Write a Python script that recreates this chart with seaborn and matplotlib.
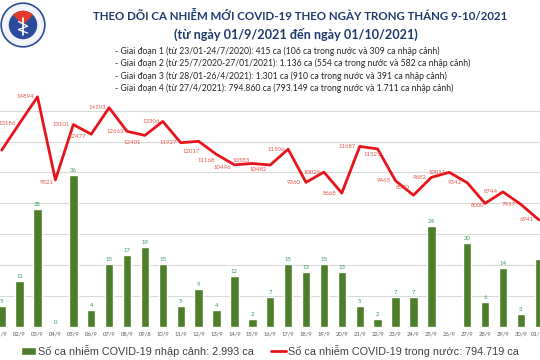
import numpy as np
import pandas as pd
import matplotlib
matplotlib.use("Agg")
import matplotlib.pyplot as plt
from matplotlib.patches import Circle, Wedge
import seaborn as sns

# ---------------- data ----------------
dates = ["01/9", "02/9", "03/9", "04/9", "05/9", "06/9", "07/9", "08/9", "09/8", "10/9",
         "11/9", "12/9", "13/9", "14/9", "15/9", "16/9", "17/9", "18/9", "19/9", "20/9",
         "21/9", "22/9", "23/9", "24/9", "25/9", "26/9", "27/9", "28/9", "29/9", "30/9", "01/10"]
imported = [5, 11, 28, 0, 36, 4, 15, 17, 19, 15,
            5, 9, 4, 12, 2, 7, 15, 13, 15, 13,
            5, 2, 7, 7, 24, np.nan, 20, 6, 14, 3, 16]
domestic = [11450, 13186, 14894, 9521, 13101, 12477, 14193, 12663, 12401, 13306,
            11927, 12017, 11168, 10496, 10583, 10482, 11506, 9360, 10025, 8668,
            11687, 11525, 9465, 8530, 9682, 10011, 9342, 8000, 8744, 7937, 6941]

title = "THEO DÕI CA NHIỄM MỚI COVID-19 THEO NGÀY TRONG THÁNG 9-10/2021"
subtitle = "(từ ngày 01/9/2021 đến ngày 01/10/2021)"
notes = [
    "- Giai đoạn 1 (từ 23/01-24/7/2020): 415 ca (106 ca trong nước và 309 ca nhập cảnh)",
    "- Giai đoạn 2 (từ 25/7/2020-27/01/2021): 1.136 ca (554 ca trong nước và 582 ca nhập cảnh)",
    "- Giai đoạn 3 (từ 28/01-26/4/2021): 1.301 ca (910 ca trong nước và 391 ca nhập cảnh)",
    "- Giai đoạn 4 (từ 27/4/2021): 794.860 ca (793.149 ca trong nước và 1.711 ca nhập cảnh)",
]
legend_bar = "Số ca nhiễm COVID-19 nhập cảnh: 2.993 ca"
legend_line = "Số ca nhiễm COVID-19 trong nước: 794.719 ca"

df = pd.DataFrame({"date": dates, "pos": np.arange(len(dates)),
                   "imported": imported, "domestic": domestic})

# ---------------- style ----------------
sns.set_theme(style="white")
plt.rcParams["font.family"] = ["Lato", "DejaVu Sans"]

BAR_C = "#4e7d2b"
BAR_LBL = "#3a9a5a"
LINE_C = "#e8141b"
LINE_LBL = "#e0584e"
NAVY = "#1f3a6e"

fig = plt.figure(figsize=(5.4, 3.6), dpi=100)
fig.patch.set_facecolor("white")

ax = fig.add_axes([0, 1 - 327 / 360, 1, 239.5 / 360])
ax2 = ax.twinx()

LINE_MAX = 15500
BAR_MAX = 239.5 / 4.22

# bars
sns.barplot(data=df, x="date", y="imported", order=dates, color=BAR_C,
            saturation=1, width=0.47, ax=ax, zorder=2)
ax.set_ylim(0, BAR_MAX)
ax.set_yticks([k * 2000 * BAR_MAX / LINE_MAX for k in range(8)])
ax.grid(axis="y", color="#d9d9d9", linewidth=0.8, zorder=0)
ax.grid(axis="x", visible=False)
ax.set_axisbelow(True)
last = len(imported) - 1
for i, v in enumerate(imported):
    # the last bar's label lies beyond the visible frame in the reference
    if np.isnan(v) or i == last:
        continue
    ax.annotate(f"{int(v)}", (i, v), xytext=(0, 2), textcoords="offset pixels",
                ha="center", va="bottom", fontsize=4.3, color=BAR_LBL,
                annotation_clip=False)

# line
sns.lineplot(data=df, x="pos", y="domestic", color=LINE_C, linewidth=2.0, ax=ax2,
             zorder=3)
ax2.set_ylim(0, LINE_MAX)

offsets = {3: (-9, 3), 5: (-14, 2), 8: (-13, 7), 11: (-7, 10), 12: (-10, 6),
           13: (-12, 3), 14: (-11, -3), 15: (-12, 4), 21: (-5, 6), 23: (-11, -8),
           27: (-8, 2), 30: (-12, 0)}
for i, v in enumerate(domestic):
    # the first point's label lies beyond the visible frame in the reference
    if i == 0:
        continue
    dx, dy = offsets.get(i, (-12, 0))
    ax2.annotate(f"{v}", (i, v), xytext=(dx, -dy), textcoords="offset pixels",
                 ha="center", va="center", fontsize=4.3, color=LINE_LBL,
                 annotation_clip=False)

ax.set_xlim(-0.095, 30.07)
for a in (ax, ax2):
    a.set_ylabel("")
    a.set_xlabel("")
    a.tick_params(axis="y", left=False, right=False, labelleft=False, labelright=False)
    for s in a.spines.values():
        s.set_visible(False)
ax2.patch.set_visible(False)
ax.tick_params(axis="x", length=0, pad=3, labelsize=4.2, labelcolor="#595959")
ax2.tick_params(axis="x", length=0, labelbottom=False)

# legend
h_bar = [p for p in ax.containers[0].patches if p is not None][0]
h_line = ax2.lines[0]
fig.legend([h_bar, h_line], [legend_bar, legend_line], loc="center",
           bbox_to_anchor=(0.5, 1 - 351 / 360), ncol=2, frameon=False,
           prop={"family": ["Liberation Sans", "DejaVu Sans"], "size": 7.8},
           labelcolor="#404040", handlelength=1.4, handletextpad=0.15,
           columnspacing=1.6, borderpad=0)

# titles
fig.text(300 / 540, 1 - 16 / 360, title, ha="center", va="center", fontsize=8.3,
         fontweight="bold", color=NAVY)
fig.text(296 / 540, 1 - 34 / 360, subtitle, ha="center", va="center", fontsize=9.1,
         fontweight="bold", color=NAVY)
for k, t in enumerate(notes):
    fig.text(115 / 540, 1 - (51 + 12.4 * k) / 360, t, ha="left", va="center",
             fontsize=6.2, color="#262626")

# simple logo
lax = fig.add_axes([0, 1 - 48 / 360, 46 / 540, 46 / 360])
lax.set_xlim(-1, 1)
lax.set_ylim(-1, 1)
lax.set_aspect("equal")
lax.axis("off")
lax.add_patch(Circle((0, 0), 0.95, facecolor="#f2f4fa", edgecolor="#2b4c9b", lw=1.2))
lax.add_patch(Circle((0, 0), 0.62, facecolor="#2b4c9b", edgecolor="none"))
lax.add_patch(Wedge((0, 0), 0.62, 45, 135, facecolor="#e23b2e", edgecolor="none"))
lax.plot([0, 0], [-0.45, 0.3], color="white", lw=1.2)
lax.plot([-0.2, 0.2, -0.2, 0.2], [0.15, -0.05, -0.2, -0.35], color="white", lw=0.9)

fig.savefig("out.png", dpi=100)
